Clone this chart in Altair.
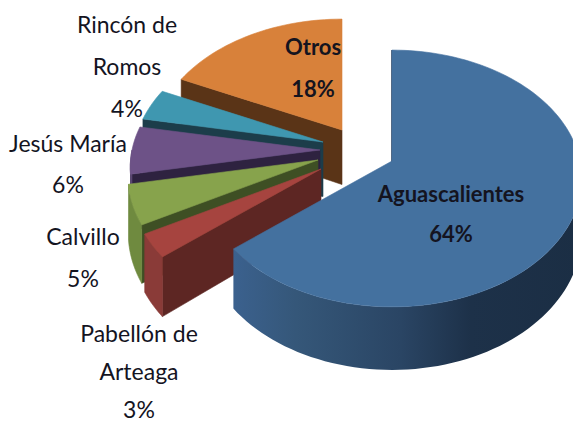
import math
import altair as alt

# --- chart values -----------------------------------------------------------
names = ["Aguascalientes", "Pabellón de Arteaga", "Calvillo", "Jesús María", "Rincón de Romos", "Otros"]
shares = [64, 3, 5, 6, 4, 18]
top_colors = ["#44719f", "#a6443f", "#87a34c", "#6d5287", "#3f97b0", "#d8813a"]
cut_colors = ["#1f3550", "#5d2623", "#3e4f24", "#2e2240", "#1c3d4a", "#5a3417"]
outer_colors = ["#2e4a6d", "#8a3b38", "#6f8a3f", "#5b4672", "#2f7388", "#a8652d"]

label_lines = [
    ["Aguascalientes", "64%"],
    ["Pabellón de", "Arteaga", "3%"],
    ["Calvillo", "5%"],
    ["Jesús María", "6%"],
    ["Rincón de", "Romos", "4%"],
    ["Otros", "18%"],
]
label_bold = [True, False, False, False, False, True]

# --- layout of the exploded pie (page pixels) --------------------------------
apexes = [(392, 161), (321, 169), (318, 160), (320, 150), (323, 142), (342, 130)]
label_anchor = [(451, 202, 40), (139, 342, 38), (83, 245, 42), (68, 152, 41), (127, 33, 42), (313, 55, 42)]
RX, RY, PERSP, DEPTH = 188, 126, 0.136, 54.5
OFFSET = 8


def project(deg, radius, apex, drop=0.0):
    t = math.radians(deg)
    X, Y = math.sin(t) * radius, -math.cos(t) * radius
    w = 1 - PERSP * Y
    return [apex[0] + RX * X / w - OFFSET, apex[1] + (RY * Y + drop) / w - OFFSET]


def feature(ring, fill):
    ring = ring + [ring[0]]
    return {"type": "Feature", "geometry": {"type": "Polygon", "coordinates": [ring]},
            "properties": {"fill": fill}}


def arc(a0, a1, apex, drop=0.0):
    n = max(2, int(abs(a1 - a0) / 2))
    return [project(a0 + (a1 - a0) * i / n, 1, apex, drop) for i in range(n + 1)]


def cut(deg, apex, fill):
    return feature([project(deg, 0, apex), project(deg, 1, apex),
                    project(deg, 1, apex, DEPTH), project(deg, 0, apex, DEPTH)], fill)


def outer(a0, a1, apex, fill):
    return feature(arc(a0, a1, apex) + arc(a1, a0, apex, DEPTH), fill)


def top(a0, a1, apex, fill):
    return feature([project(a0, 0, apex)] + arc(a0, a1, apex), fill)


spans = []
acc = 0.0
total = sum(shares)
for s in shares:
    spans.append((acc, acc + 360 * s / total))
    acc += 360 * s / total

# painter's order: back sectors first, the big sector last
pieces = []
for i in [5, 4, 3, 2, 1]:
    a0, a1 = spans[i]
    pieces.append(cut(a0, apexes[i], cut_colors[i]))
    if a0 < 270:
        pieces.append(outer(a0, min(a1, 270), apexes[i], outer_colors[i]))
    pieces.append(top(a0, a1, apexes[i], top_colors[i]))

a0, a1 = spans[0]
proj = alt.Projection(type="identity", scale=1, translate=[0, 0])


def shape_layer(feats):
    return alt.Chart(alt.Data(values=feats)).mark_geoshape(filled=True, strokeWidth=0.6).encode(
        fill=alt.Fill("properties.fill:N", scale=None),
        stroke=alt.Stroke("properties.fill:N", scale=None),
    ).project(**proj.to_dict())


rest = shape_layer(pieces)
blue_cut = alt.Chart(alt.Data(values=[cut(a0, apexes[0], cut_colors[0])])).mark_geoshape(
    fill=cut_colors[0], stroke=cut_colors[0], strokeWidth=1).project(**proj.to_dict())
blue_wall = alt.Chart(alt.Data(values=[outer(85, a1, apexes[0], outer_colors[0])])).mark_geoshape(
    strokeWidth=0,
    fill=alt.Gradient(
        gradient="linear", x1=1, x2=0, y1=0, y2=0,
        stops=[
            alt.GradientStop(offset=0, color="#1b2e44"),
            alt.GradientStop(offset=0.32, color="#1d3149"),
            alt.GradientStop(offset=0.52, color="#2a4564"),
            alt.GradientStop(offset=0.82, color="#355779"),
            alt.GradientStop(offset=1, color="#3b618e"),
        ],
    ),
).project(**proj.to_dict())
blue_top = shape_layer([top(a0, a1, apexes[0], top_colors[0])])

rows = []
for lines, bold, (cx, base, step) in zip(label_lines, label_bold, label_anchor):
    for j, line in enumerate(lines):
        rows.append({"line": line, "px": cx - OFFSET, "py": base + j * step - OFFSET, "bold": bold})


def text_layer(bold):
    return alt.Chart(alt.Data(values=[r for r in rows if r["bold"] == bold])).mark_text(
        font="Lato", fontSize=22 if bold else 23, align="center", baseline="alphabetic",
        color="#14141f", fontWeight="bold" if bold else "normal",
    ).encode(
        x=alt.X("px:Q", scale=None, axis=None),
        y=alt.Y("py:Q", scale=None, axis=None),
        text="line:N",
    )


chart = alt.layer(rest, blue_cut, blue_wall, blue_top, text_layer(False), text_layer(True)).properties(
    width=565, height=415, padding=0, autosize=alt.AutoSizeParams(type="none"),
    background="white",
).configure_view(stroke=None)

chart.save("out.html", embed_options={"renderer": "svg", "actions": False})
